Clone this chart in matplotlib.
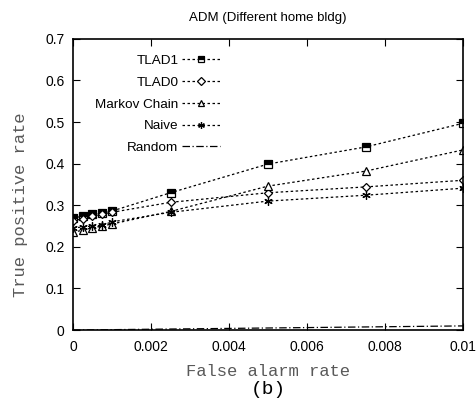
import numpy as np
import matplotlib
matplotlib.use("Agg")
import matplotlib.pyplot as plt

# false alarm rate grid and true positive rate per detector
far = [0.0, 0.00025, 0.0005, 0.00075, 0.001, 0.0025, 0.005, 0.0075, 0.01]
tlad1 = [0.270, 0.273, 0.278, 0.281, 0.286, 0.330, 0.399, 0.440, 0.497]
tlad0 = [0.262, 0.268, 0.273, 0.278, 0.283, 0.307, 0.330, 0.344, 0.360]
markov = [0.235, 0.240, 0.246, 0.250, 0.255, 0.285, 0.346, 0.382, 0.433]
naive = [0.245, 0.248, 0.250, 0.252, 0.260, 0.283, 0.310, 0.324, 0.341]
random_far = [0.0, 0.0025, 0.005, 0.0075, 0.01]
random_tpr = [0.0, 0.0025, 0.005, 0.0075, 0.01]

SANS = ["Liberation Sans", "DejaVu Sans"]
MONO = ["Liberation Mono", "DejaVu Sans Mono"]

plt.rcParams.update({"font.family": SANS, "font.size": 10,
                     "xtick.direction": "in", "ytick.direction": "in",
                     "xtick.top": True, "ytick.right": True,
                     "xtick.major.size": 5, "ytick.major.size": 5})

fig = plt.figure(figsize=(4.77, 4.04), dpi=100)
ax = fig.add_axes([0.153, 0.183, 0.818, 0.721])

dot = (0, (2, 2))
common = dict(color="black", linewidth=0.9, linestyle=dot, markersize=6,
              markeredgewidth=0.9, markerfacecolor="white", markeredgecolor="black")
ax.plot(far, tlad1, marker="s", fillstyle="top", markerfacecoloralt="white",
        label="TLAD1", **{**common, "markerfacecolor": "black"})
ax.plot(far, tlad0, marker="D", label="TLAD0", **{**common, "markersize": 4.5})
ax.plot(far, markov, marker="^", label="Markov Chain", **common)
ax.plot(far, naive, marker=(6, 2, 0), label="Naive", **common)
ax.plot(random_far, random_tpr, color="black", linewidth=0.9,
        linestyle=(0, (6, 2, 1, 2)), label="Random")

ax.set_xlim(0, 0.01)
ax.set_ylim(0, 0.7)
ax.set_xticks([0, 0.002, 0.004, 0.006, 0.008, 0.01])
ax.set_xticklabels(["0", "0.002", "0.004", "0.006", "0.008", "0.01"])
ax.set_yticks(np.arange(0, 0.71, 0.1))
ax.set_yticklabels(["0", "0.1", "0.2", "0.3", "0.4", "0.5", "0.6", "0.7"])
ax.tick_params(axis="x", pad=7, labelsize=10)
ax.tick_params(axis="y", pad=6, labelsize=10)
for s in ax.spines.values():
    s.set_linewidth(1.2)

ax.set_title("ADM (Different home bldg)", fontsize=9.5, pad=13)
ax.set_xlabel("False alarm rate", family=MONO, fontsize=12.3, color="0.35",
              labelpad=7)
ax.set_ylabel("True positive rate", family=MONO, fontsize=12.3, color="0.35")
ax.yaxis.set_label_coords(-0.115, 0.43)
fig.text(0.562, 0.036, "(b)", family=MONO, fontsize=14, ha="center",
         va="center", color="black")

ax.legend(loc="upper right", bbox_to_anchor=(0.408, 0.987), markerfirst=False,
          frameon=False, handlelength=2.8, handletextpad=0.3,
          labelspacing=0.69, fontsize=9.7, markerscale=0.8)

fig.savefig("out.png", dpi=100)
